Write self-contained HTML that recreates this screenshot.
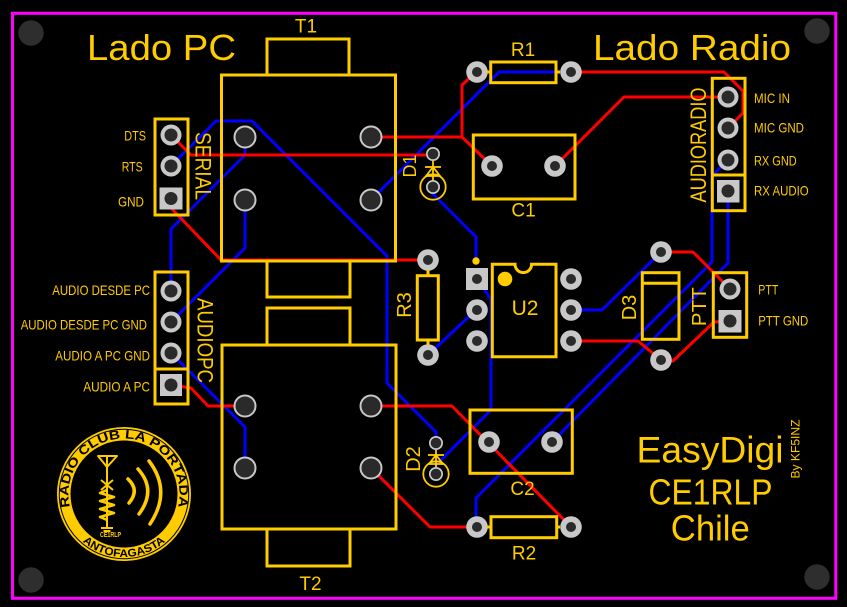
<!DOCTYPE html>
<html><head><meta charset="utf-8"><style>
html,body{margin:0;padding:0;background:#000;}
svg{display:block;}
text{font-family:"Liberation Sans",sans-serif;fill:#ffcc00;}
</style></head><body>
<svg width="847" height="607" viewBox="0 0 847 607" xmlns="http://www.w3.org/2000/svg">
<rect width="847" height="607" fill="#000"/>
<rect x="12.5" y="13.3" width="823.3" height="585" fill="none" stroke="#ff00ff" stroke-width="3"/>
<g fill="#2e2e2e">
<circle cx="31" cy="33" r="12.7"/><circle cx="817" cy="31" r="12.7"/>
<circle cx="31" cy="580" r="12.7"/><circle cx="817" cy="577" r="12.7"/>
</g>

<!-- blue traces -->
<g fill="none" stroke="#0000ff" stroke-width="3" stroke-linejoin="round" stroke-linecap="round">
<path d="M171,166 L216,121 L252,121 L387,256 L387,383 L436,432 L436,443"/>
<path d="M245,137 L245,155 L171,229 L171,290"/>
<path d="M245,200 L245,248 L171,322"/>
<path d="M171,353 L245,427 L245,468"/>
<path d="M371,200 L499,72 L571,72"/>
<path d="M433,187 L433,194 L476,237 L476,261"/>
<path d="M477,279 L487,293 L491,300 L491,410 L445,456 L436,465 L436,474"/>
<path d="M428,355 L476,310"/>
<path d="M571,310 L602,310 L661,252"/>
<path d="M728,160 L712,176 L712,262 L476,498 L476,527"/>
<path d="M728,191 L728,263 L552,442"/>
</g>
<!-- red traces -->
<g fill="none" stroke="#ff0000" stroke-width="3" stroke-linejoin="round" stroke-linecap="round">
<path d="M171,135 L191,155 L433,155"/>
<path d="M371,137 L462,137 L492,166"/>
<path d="M462,137 L462,85 L476,72"/>
<path d="M555,166 L624,97 L728,97"/>
<path d="M571,72 L724,72 L743,91 L743,113 L728,128"/>
<path d="M171,199 L172,209 L221,260 L428,260"/>
<path d="M571,341 L638,341 L661,360"/>
<path d="M661,360 L673,361 L714,322 L730,321"/>
<path d="M661,252 L693,252 L730,289"/>
<path d="M171,385 L191,388 L208,406 L245,406"/>
<path d="M371,406 L452,406 L571,527"/>
<path d="M371,468 L430,527 L477,527"/>
</g>

<!-- transformer pads -->
<g fill="#2a2a2a" stroke="#c8c8c8" stroke-width="2">
<circle cx="245" cy="137" r="10.5"/><circle cx="371" cy="137" r="10.5"/>
<circle cx="245" cy="200" r="10.5"/><circle cx="371" cy="200" r="10.5"/>
<circle cx="245" cy="406" r="10.5"/><circle cx="371" cy="406" r="10.5"/>
<circle cx="245" cy="468" r="10.5"/><circle cx="371" cy="468" r="10.5"/>
</g>
<!-- header pads -->
<g fill="#c8c8c8">
<circle cx="171" cy="135" r="10.5"/><circle cx="171" cy="166" r="10.5"/>
<rect x="159.5" y="187.5" width="23" height="22"/>
<circle cx="171" cy="291" r="10.5"/><circle cx="171" cy="322" r="10.5"/><circle cx="171" cy="353" r="10.5"/>
<rect x="160" y="374" width="22" height="22"/>
<circle cx="728" cy="97" r="10.5"/><circle cx="728" cy="128" r="10.5"/><circle cx="728" cy="160" r="10.5"/>
<rect x="717" y="180" width="22.5" height="22.5"/>
<circle cx="730" cy="289" r="10.5"/>
<rect x="718.5" y="310" width="23" height="22.5"/>
</g>
<g fill="#2a2a2a">
<circle cx="171" cy="135" r="6.5"/><circle cx="171" cy="166" r="6.5"/><circle cx="171" cy="198.5" r="6.5"/>
<circle cx="171" cy="291" r="6.5"/><circle cx="171" cy="322" r="6.5"/><circle cx="171" cy="353" r="6.5"/><circle cx="171" cy="385" r="6.5"/>
<circle cx="728" cy="97" r="6.5"/><circle cx="728" cy="128" r="6.5"/><circle cx="728" cy="160" r="6.5"/><circle cx="728" cy="191" r="6.5"/>
<circle cx="730" cy="289" r="6.5"/><circle cx="730" cy="321" r="6.5"/>
</g>
<!-- standard pads -->
<g fill="#c8c8c8">
<circle cx="477" cy="72" r="10.8"/><circle cx="571" cy="72" r="10.8"/>
<circle cx="492" cy="166" r="10.8"/><circle cx="555" cy="166" r="10.8"/>
<circle cx="428" cy="260" r="10.8"/><circle cx="428" cy="355" r="10.8"/>
<rect x="466" y="268" width="22" height="22"/>
<circle cx="477" cy="310" r="10.8"/><circle cx="477" cy="341" r="10.8"/>
<circle cx="571" cy="279" r="10.8"/><circle cx="571" cy="310" r="10.8"/><circle cx="571" cy="341" r="10.8"/>
<circle cx="661" cy="252" r="10.8"/><circle cx="661" cy="360" r="10.8"/>
<circle cx="489" cy="442" r="10.8"/><circle cx="552" cy="442" r="10.8"/>
<circle cx="477" cy="527" r="10.8"/><circle cx="571" cy="527" r="10.8"/>
<circle cx="433" cy="154" r="7"/><circle cx="433" cy="187" r="7"/>
<circle cx="436" cy="443" r="7"/><circle cx="436" cy="474" r="7"/>
</g>
<g fill="#2a2a2a">
<circle cx="477" cy="72" r="5"/><circle cx="571" cy="72" r="5"/>
<circle cx="492" cy="166" r="5"/><circle cx="555" cy="166" r="5"/>
<circle cx="428" cy="260" r="5"/><circle cx="428" cy="355" r="5"/>
<circle cx="477" cy="279" r="5"/>
<circle cx="477" cy="310" r="5"/><circle cx="477" cy="341" r="5"/>
<circle cx="571" cy="279" r="5"/><circle cx="571" cy="310" r="5"/><circle cx="571" cy="341" r="5"/>
<circle cx="661" cy="252" r="5"/><circle cx="661" cy="360" r="5"/>
<circle cx="489" cy="442" r="5"/><circle cx="552" cy="442" r="5"/>
<circle cx="477" cy="527" r="5"/><circle cx="571" cy="527" r="5"/>
<circle cx="433" cy="154" r="5.3"/><circle cx="433" cy="187" r="5.3"/>
<circle cx="436" cy="443" r="5.3"/><circle cx="436" cy="474" r="5.3"/>
</g>

<!-- silkscreen -->
<g fill="none" stroke="#ffcc00" stroke-width="3">
<rect x="221.5" y="75" width="174" height="186"/>
<polyline points="267,75 267,39 349,39 349,75"/>
<polyline points="267,261 267,297 350,297 350,261"/>
<polyline points="267,345 267,308 350,308 350,345"/>
<rect x="222" y="345" width="174" height="184"/>
<polyline points="267,529 267,566 350,566 350,529"/>
<rect x="155" y="119" width="33" height="96"/>
<rect x="155" y="272" width="33" height="132"/>
<line x1="155" y1="369" x2="188" y2="369"/>
<rect x="712.3" y="78.3" width="32.7" height="132.4"/>
<line x1="712.3" y1="175" x2="745" y2="175"/>
<rect x="713.3" y="272.7" width="33.4" height="64.6"/>
<rect x="490.7" y="62" width="65.3" height="20.7"/>
<line x1="487" y1="72" x2="490.7" y2="72"/><line x1="556" y1="72" x2="560" y2="72"/>
<rect x="491" y="516.7" width="65.7" height="21"/>
<line x1="487" y1="527" x2="491" y2="527"/><line x1="556.7" y1="527" x2="560" y2="527"/>
<rect x="417.3" y="275.7" width="21" height="64.3"/>
<line x1="428" y1="270" x2="428" y2="275.7"/><line x1="428" y1="340" x2="428" y2="345"/>
<rect x="473.3" y="135" width="101.7" height="64"/>
<rect x="470" y="410" width="102.3" height="63.3"/>
<rect x="642.3" y="272.7" width="36.7" height="66.6"/>
<line x1="642.3" y1="283.3" x2="679" y2="283.3"/>
<path d="M492.3,264.3 H515 A8.3,8.3 0 0 0 531.6,264.3 H556 V356.7 H492.3 Z"/>
</g>
<g fill="#ffcc00">
<circle cx="505" cy="279" r="7.3"/>
<circle cx="476" cy="261" r="3.7"/>
</g>
<!-- diodes D1 D2 -->
<g fill="none" stroke="#ffcc00" stroke-width="1.8">
<circle cx="433" cy="187" r="12.7"/>
<line x1="425" y1="167" x2="441" y2="167"/>
<path d="M426,176 L440,176 L433,167 Z"/>
<line x1="433" y1="161" x2="433" y2="180"/>
<circle cx="436" cy="474" r="12.7"/>
<line x1="428" y1="455" x2="444" y2="455"/>
<path d="M429,464 L443,464 L436,455 Z"/>
<line x1="436" y1="450" x2="436" y2="467"/>
</g>

<!-- big text -->
<text x="87" y="60" font-size="36" textLength="149" lengthAdjust="spacingAndGlyphs">Lado PC</text>
<text x="593" y="60" font-size="36" textLength="198" lengthAdjust="spacingAndGlyphs">Lado Radio</text>
<text x="710" y="462.3" font-size="37" text-anchor="middle" textLength="147" lengthAdjust="spacingAndGlyphs">EasyDigi</text>
<text x="710.5" y="504.3" font-size="36" text-anchor="middle" textLength="124" lengthAdjust="spacingAndGlyphs">CE1RLP</text>
<text x="710.3" y="540.7" font-size="36" text-anchor="middle" textLength="79" lengthAdjust="spacingAndGlyphs">Chile</text>
<text transform="translate(795.5,449) rotate(-90)" x="0" y="4" font-size="12" text-anchor="middle" textLength="59" lengthAdjust="spacingAndGlyphs">By KF5INZ</text>

<!-- component labels -->
<g font-size="19" text-anchor="middle">
<text x="306" y="32.3">T1</text>
<text x="310.5" y="590">T2</text>
<text x="523" y="56">R1</text>
<text x="524" y="559.3">R2</text>
<text x="523.5" y="216.7">C1</text>
<text x="522.5" y="495">C2</text>
<text x="525" y="315" font-size="21">U2</text>
</g>
<g text-anchor="middle">
<text transform="translate(203.5,166) rotate(90)" x="0" y="7.9" font-size="22" textLength="68" lengthAdjust="spacingAndGlyphs">SERIAL</text>
<text transform="translate(205.5,340.5) rotate(90)" x="0" y="7.9" font-size="22" textLength="85" lengthAdjust="spacingAndGlyphs">AUDIOPC</text>
<text transform="translate(698,145) rotate(-90)" x="0" y="7.9" font-size="22" textLength="115" lengthAdjust="spacingAndGlyphs">AUDIORADIO</text>
<text transform="translate(409.7,166) rotate(-90)" x="0" y="6.5" font-size="18">D1</text>
<text transform="translate(413,459) rotate(-90)" x="0" y="7.2" font-size="20">D2</text>
<text transform="translate(629,307.5) rotate(-90)" x="0" y="7.2" font-size="20">D3</text>
<text transform="translate(404,305) rotate(-90)" x="0" y="7" font-size="20">R3</text>
<text transform="translate(699,306.7) rotate(-90)" x="0" y="7.2" font-size="20" textLength="39" lengthAdjust="spacingAndGlyphs">PTT</text>
</g>

<!-- header labels -->
<g font-size="14" lengthAdjust="spacingAndGlyphs">
<text x="124.3" y="140.5" textLength="21.7" lengthAdjust="spacingAndGlyphs">DTS</text>
<text x="121.7" y="171.7" textLength="21" lengthAdjust="spacingAndGlyphs">RTS</text>
<text x="118" y="206.7" textLength="26" lengthAdjust="spacingAndGlyphs">GND</text>
<text x="52.3" y="295" textLength="97.7" lengthAdjust="spacingAndGlyphs">AUDIO DESDE PC</text>
<text x="20.7" y="329.3" textLength="126.3" lengthAdjust="spacingAndGlyphs">AUDIO DESDE PC GND</text>
<text x="55.3" y="360.7" textLength="94.7" lengthAdjust="spacingAndGlyphs">AUDIO A PC GND</text>
<text x="83.3" y="391.7" textLength="66.7" lengthAdjust="spacingAndGlyphs">AUDIO A PC</text>
<text x="754" y="103" textLength="36" lengthAdjust="spacingAndGlyphs">MIC IN</text>
<text x="754" y="132.7" textLength="50" lengthAdjust="spacingAndGlyphs">MIC GND</text>
<text x="754" y="165.7" textLength="42.7" lengthAdjust="spacingAndGlyphs">RX GND</text>
<text x="754" y="195.7" textLength="54.7" lengthAdjust="spacingAndGlyphs">RX AUDIO</text>
<text x="758.3" y="294.3" textLength="20" lengthAdjust="spacingAndGlyphs">PTT</text>
<text x="758.3" y="325.7" textLength="50" lengthAdjust="spacingAndGlyphs">PTT GND</text>
</g>

<!-- logo -->
<defs>
<path id="topArc" d="M71.85,512.98 A55.5,55.5 0 1 1 176.15,512.98"/>
<path id="botArc" d="M78.68,537.76 A63,63 0 0 0 169.32,537.76"/>
</defs>
<circle cx="124" cy="494" r="67" fill="#ffcc00"/>
<circle cx="124" cy="494" r="64.7" fill="none" stroke="#000" stroke-width="1"/>
<circle cx="124" cy="494" r="53.5" fill="#000"/>
<text font-size="12.5" font-weight="bold" style="fill:#000"><textPath href="#topArc" startOffset="50%" text-anchor="middle" textLength="200" lengthAdjust="spacingAndGlyphs">RADIO CLUB LA PORTADA</textPath></text>
<text font-size="11" font-weight="bold" style="fill:#000"><textPath href="#botArc" startOffset="50%" text-anchor="middle" textLength="90" lengthAdjust="spacingAndGlyphs">ANTOFAGASTA</textPath></text>
<text x="100" y="537" font-size="7" font-weight="bold" textLength="21" lengthAdjust="spacingAndGlyphs">CE1RLP</text>
<g fill="none" stroke="#ffcc00" stroke-width="2" stroke-linejoin="round">
<path d="M98,456 L117,456 L107,467 Z"/>
<line x1="107" y1="456" x2="107" y2="528"/>
<line x1="101" y1="480" x2="113" y2="490"/>
<line x1="101" y1="490" x2="113" y2="480"/>
<polyline points="107,490 100,493 114,497 100,501 114,505 100,509 114,513 100,517 107,520" stroke-width="2.5"/>
<line x1="101" y1="528" x2="113" y2="528"/>
<line x1="103.5" y1="531" x2="110.5" y2="531"/>
</g>
<g fill="none" stroke="#ffcc00" stroke-width="3.5" stroke-linecap="round">
<path d="M128,479 Q140,490 129,503"/>
<path d="M138,469 Q157,490 139,514"/>
<path d="M149,461 Q172,491 150,524"/>
</g>
</svg>
</body></html>
